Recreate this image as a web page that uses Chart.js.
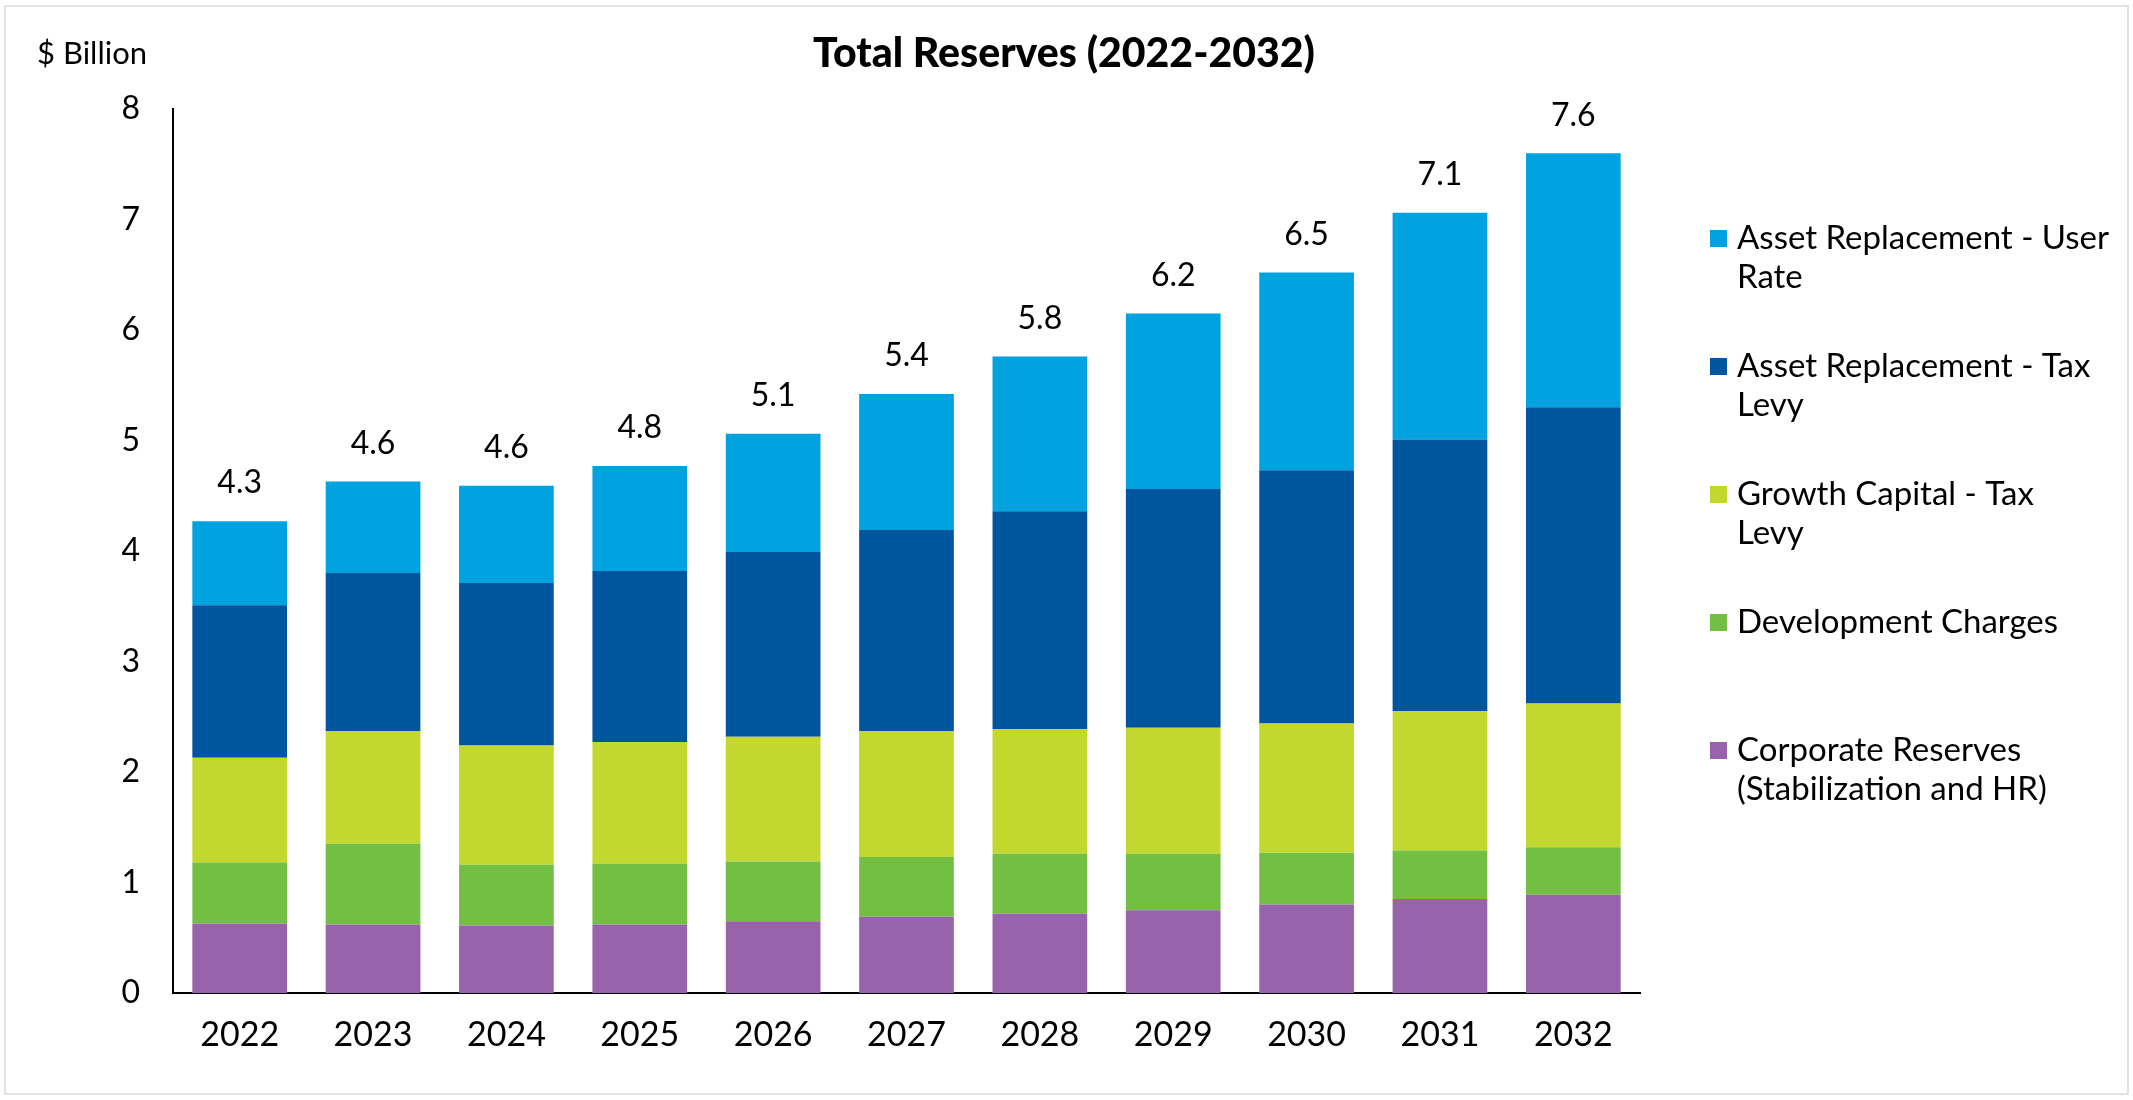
<!DOCTYPE html>
<html><head><meta charset="utf-8">
<script src="https://cdn.jsdelivr.net/npm/chart.js@4.4.1/dist/chart.umd.min.js"></script>
<style>html,body{margin:0;padding:0;background:#fff;overflow:hidden}canvas{display:block}</style>
</head><body>
<canvas id="c" width="2133" height="1100"></canvas>
<script>
const years = ['2022','2023','2024','2025','2026','2027','2028','2029','2030','2031','2032'];
const corporateReserves  = [0.63, 0.62, 0.61, 0.62, 0.65, 0.69, 0.72, 0.75, 0.80, 0.85, 0.89];
const developmentCharges = [0.55, 0.73, 0.55, 0.55, 0.54, 0.54, 0.54, 0.51, 0.47, 0.44, 0.43];
const growthCapitalTax   = [0.95, 1.02, 1.08, 1.10, 1.13, 1.14, 1.13, 1.14, 1.17, 1.26, 1.30];
const assetReplTax       = [1.38, 1.43, 1.47, 1.55, 1.67, 1.82, 1.97, 2.16, 2.29, 2.46, 2.68];
const assetReplUserRate  = [0.76, 0.83, 0.88, 0.95, 1.07, 1.23, 1.40, 1.59, 1.79, 2.05, 2.30];
const totalLabels = ['4.3','4.6','4.6','4.8','5.1','5.4','5.8','6.2','6.5','7.1','7.6'];
const seriesNames = ['Corporate Reserves (Stabilization and HR)','Development Charges','Growth Capital - Tax Levy','Asset Replacement - Tax Levy','Asset Replacement - User Rate'];
const legendLines = [['Corporate Reserves','(Stabilization and HR)'],['Development Charges'],['Growth Capital - Tax','Levy'],['Asset Replacement - Tax','Levy'],['Asset Replacement - User','Rate']];
const seriesColors = ['#9763AA','#72BF44','#C2D82E','#00559F','#00A2E0'];
const chartTitle = 'Total Reserves (2022-2032)';
const unitLabel = '$ Billion';
const yMin = 0, yMax = 8, yStep = 1;

const FONT = 'Lato, "Open Sans", sans-serif';
Chart.defaults.font.family = FONT;
Chart.defaults.color = '#000';

const extras = {
  id: 'extras',
  afterDraw(chart) {
    const ctx = chart.ctx;
    ctx.save();
    ctx.strokeStyle = '#d9d9d9';
    ctx.lineWidth = 1.5;
    ctx.strokeRect(5, 6, chart.width - 10, chart.height - 12);
    ctx.fillStyle = '#000';
    ctx.textAlign = 'center';
    ctx.textBaseline = 'middle';
    ctx.font = '900 41px ' + FONT;
    ctx.fillText(chartTitle, 1064, 54);
    ctx.textAlign = 'left';
    ctx.font = '31px ' + FONT;
    ctx.fillText(unitLabel, 37, 54);
    ctx.textAlign = 'center';
    ctx.font = '32px ' + FONT;
    const top = chart.getDatasetMeta(chart.data.datasets.length - 1);
    top.data.forEach((bar, i) => {
      ctx.fillText(totalLabels[i], bar.x, bar.y - 38);
    });
    ctx.font = '33px ' + FONT;
    const n = chart.data.datasets.length;
    for (let k = 0; k < n; k++) {
      const di = n - 1 - k;
      const y0 = 238 + k * 128;
      ctx.fillStyle = chart.data.datasets[di].backgroundColor;
      ctx.fillRect(1710, y0 - 8, 17, 17);
      ctx.fillStyle = '#000';
      ctx.textAlign = 'left';
      legendLines[di].forEach((ln, j) => ctx.fillText(ln, 1737, y0 + j * 39));
    }
    ctx.restore();
  }
};

const seriesData = [corporateReserves, developmentCharges, growthCapitalTax, assetReplTax, assetReplUserRate];

new Chart(document.getElementById('c'), {
  type: 'bar',
  data: {
    labels: years,
    datasets: seriesData.map((d, i) => ({
      label: seriesNames[i],
      data: d,
      backgroundColor: seriesColors[i],
      borderWidth: 0,
      barPercentage: 0.71,
      categoryPercentage: 1.0
    }))
  },
  options: {
    responsive: false,
    animation: false,
    devicePixelRatio: 1,
    layout: { padding: { top: 109, right: 493, left: 0, bottom: 0 } },
    plugins: { legend: { display: false }, tooltip: { enabled: false }, title: { display: false } },
    scales: {
      x: {
        stacked: true,
        grid: { display: false, drawTicks: false },
        border: { display: true, color: '#000', width: 2 },
        ticks: { font: { size: 34 }, color: '#000', padding: 22, maxRotation: 0 },
        afterFit(s) { s.height = 107; }
      },
      y: {
        stacked: true,
        min: yMin, max: yMax,
        grid: { display: false, drawTicks: false },
        border: { display: true, color: '#000', width: 2 },
        ticks: { stepSize: yStep, font: { size: 32 }, color: '#000', padding: 33 },
        afterFit(s) { s.width = 173; }
      }
    }
  },
  plugins: [extras]
});
</script>
</body></html>
